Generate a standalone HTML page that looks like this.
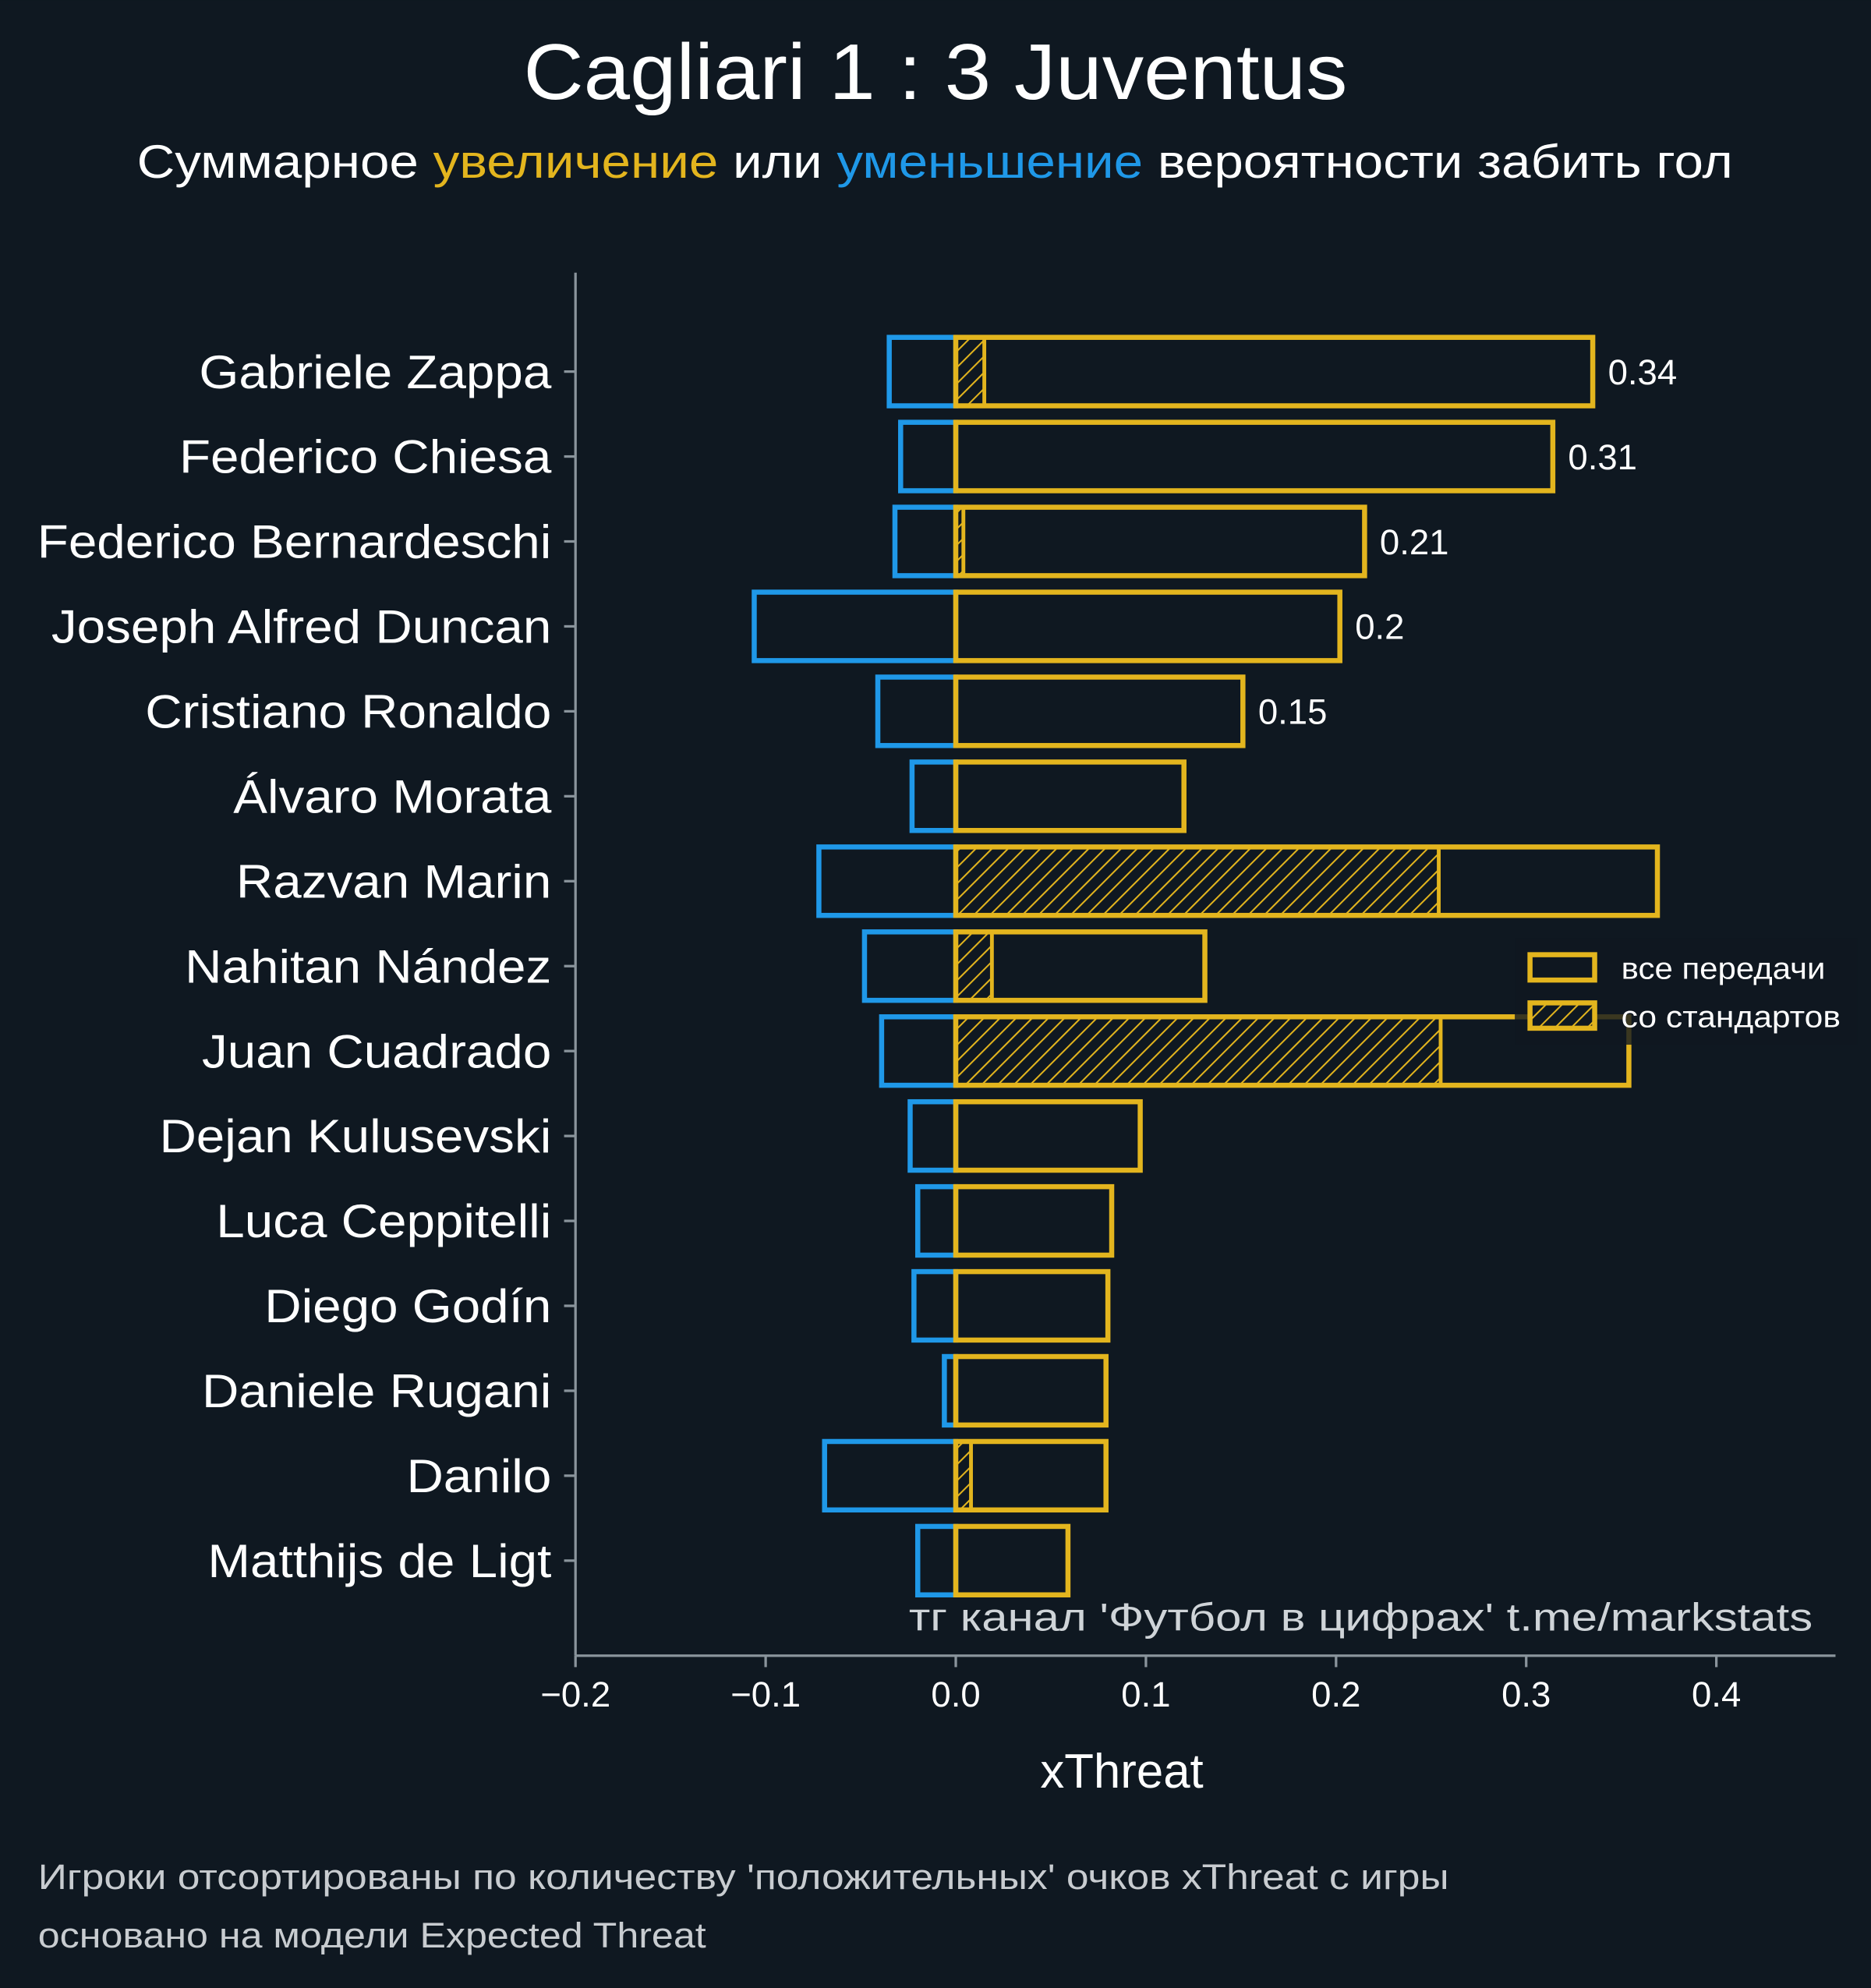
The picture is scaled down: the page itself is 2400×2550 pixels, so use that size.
<!DOCTYPE html>
<html><head><meta charset="utf-8"><style>
html,body{margin:0;padding:0;background:#0f1821;}
svg{display:block;font-family:"Liberation Sans","DejaVu Sans",sans-serif;}
</style></head><body>
<svg id="chart" width="2400" height="2550" viewBox="0 0 1476 1568" xmlns="http://www.w3.org/2000/svg">
<defs>
<pattern id="hatch" patternUnits="userSpaceOnUse" width="9" height="9" patternTransform="rotate(45)">
<rect width="9" height="9" fill="#0f1821"/>
<line x1="0" y1="0" x2="0" y2="9" stroke="#e3b51e" stroke-width="2.5"/>
</pattern>
</defs>
<rect width="1476" height="1568" fill="#0f1821"/>
<text x="413" y="78" font-size="62" fill="#ffffff" textLength="650" lengthAdjust="spacingAndGlyphs">Cagliari 1 : 3 Juventus</text>
<text x="108" y="140" font-size="37" fill="#ffffff" textLength="1259" lengthAdjust="spacingAndGlyphs">Суммарное <tspan fill="#e3b51e">увеличение</tspan> или <tspan fill="#1f98e8">уменьшение</tspan> вероятности забить гол</text>
<g id="plot"></g>
<text x="885" y="1410" text-anchor="middle" font-size="38" fill="#ffffff">xThreat</text>
<text x="717" y="1286" font-size="31" fill="#cfd4d8" textLength="713" lengthAdjust="spacingAndGlyphs">тг канал 'Футбол в цифрах'  t.me/markstats</text>
<text x="30" y="1490" font-size="28" fill="#c8ccd0" textLength="1113" lengthAdjust="spacingAndGlyphs">Игроки отсортированы по количеству 'положительных' очков xThreat с игры</text>
<text x="30" y="1536" font-size="28" fill="#c8ccd0" textLength="527" lengthAdjust="spacingAndGlyphs">основано на модели Expected Threat</text>
</svg>
<script>
const players = ["Gabriele Zappa","Federico Chiesa","Federico Bernardeschi","Joseph Alfred Duncan","Cristiano Ronaldo","Álvaro Morata","Razvan Marin","Nahitan Nández","Juan Cuadrado","Dejan Kulusevski","Luca Ceppitelli","Diego Godín","Daniele Rugani","Danilo","Matthijs de Ligt"];
const positive = [0.335,0.314,0.215,0.202,0.151,0.120,0.369,0.131,0.354,0.097,0.082,0.080,0.079,0.079,0.059];
const setPiece = [0.015,0,0.004,0,0,0,0.254,0.019,0.255,0,0,0,0,0.008,0];
const negative = [-0.035,-0.029,-0.032,-0.106,-0.041,-0.023,-0.072,-0.048,-0.039,-0.024,-0.020,-0.022,-0.006,-0.069,-0.020];
const valueLabels = ["0.34","0.31","0.21","0.2","0.15"];
const xTicks = [-0.2,-0.1,0.0,0.1,0.2,0.3,0.4];
const xTickLabels = ["−0.2","−0.1","0.0","0.1","0.2","0.3","0.4"];

const NS="http://www.w3.org/2000/svg";
const g=document.getElementById('plot');
const xS=v=>754+v*1500;
const yS=i=>293+i*67;
const BH=54;
function mk(tag,attrs){const e=document.createElementNS(NS,tag);for(const k in attrs)e.setAttribute(k,attrs[k]);g.appendChild(e);return e;}
const YEL="#e3b51e",BLU="#1f98e8";
players.forEach((p,i)=>{
  const y=yS(i);
  let r=mk('rect',{x:xS(negative[i]),y:y-BH/2,width:xS(0)-xS(negative[i]),height:BH,fill:'none',stroke:BLU,'stroke-width':4});
  
  
  if(setPiece[i]>0){
    let h=mk('rect',{x:xS(0),y:y-BH/2,width:xS(setPiece[i])-xS(0),height:BH,fill:'url(#hatch)',stroke:YEL,'stroke-width':3});
    
    
  }
  let b=mk('rect',{x:xS(0),y:y-BH/2,width:xS(positive[i])-xS(0),height:BH,fill:'none',stroke:YEL,'stroke-width':4});
  
  
  let t=mk('text',{x:435,y:y+13,'text-anchor':'end','font-size':37,fill:'#ffffff'});
  t.textContent=p;
  t.setAttribute('transform','translate(435 0) scale(1.09 1) translate(-435 0)');
  
  
  let tk=mk('line',{x1:445,x2:454,y1:y,y2:y,stroke:'#8a949c','stroke-width':2});
  
  
  if(i<valueLabels.length){
    let v=mk('text',{x:xS(positive[i])+12,y:y+10,'font-size':28,fill:'#ffffff'});
    v.textContent=valueLabels[i];
    
    
  }
});
let sp=mk('line',{x1:454,x2:454,y1:215,y2:1306,stroke:'#8a949c','stroke-width':2});


let sx=mk('line',{x1:454,x2:1448,y1:1306,y2:1306,stroke:'#8a949c','stroke-width':2});


xTicks.forEach((v,j)=>{
  let l=mk('line',{x1:xS(v),x2:xS(v),y1:1306,y2:1315,stroke:'#8a949c','stroke-width':2});
  
  
  let t=mk('text',{x:xS(v),y:1346,'text-anchor':'middle','font-size':28,fill:'#ffffff'});
  t.textContent=xTickLabels[j];
  
  
});
// legend
let lb=mk('rect',{x:1195,y:740,width:270,height:84,fill:'#0f1821','fill-opacity':0.8});


let l1=mk('rect',{x:1207,y:753,width:51,height:20,fill:'none',stroke:YEL,'stroke-width':4});


let t1=mk('text',{x:1279,y:772,'font-size':24,fill:'#ffffff',textLength:161,lengthAdjust:'spacingAndGlyphs'});
t1.textContent='все передачи';


let l2=mk('rect',{x:1207,y:791,width:51,height:20,fill:'url(#hatch)',stroke:YEL,'stroke-width':4});


let t2=mk('text',{x:1279,y:810,'font-size':24,fill:'#ffffff',textLength:173,lengthAdjust:'spacingAndGlyphs'});
t2.textContent='со стандартов';


</script>
</body></html>
